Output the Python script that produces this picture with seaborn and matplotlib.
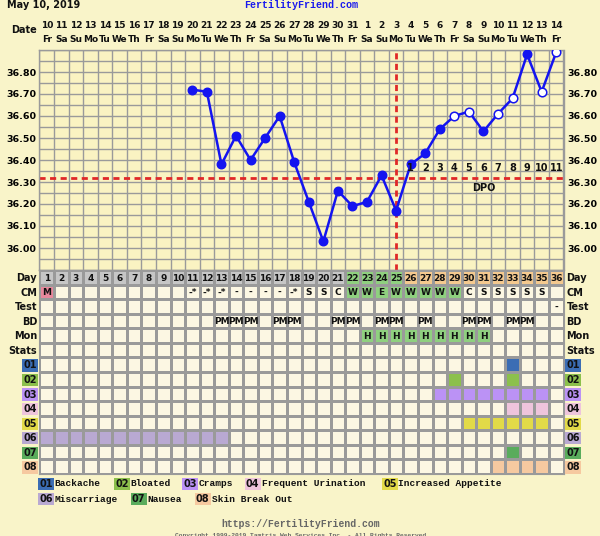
import numpy as np
import pandas as pd
import matplotlib
matplotlib.use("Agg")
import matplotlib.pyplot as plt
import matplotlib.transforms as mtransforms
from matplotlib.colors import ListedColormap
import seaborn as sns

# ---------------- data ----------------
days = list(range(1, 37))
dates = list(range(10, 32)) + list(range(1, 15))
weekdays = ["Fr", "Sa", "Su", "Mo", "Tu", "We", "Th"]
day_names = [weekdays[i % 7] for i in range(36)]

temp_days = list(range(11, 37))
temps = [36.72, 36.71, 36.38, 36.51, 36.40, 36.50, 36.60, 36.39, 36.21, 36.03,
         36.26, 36.19, 36.21, 36.33, 36.17, 36.38, 36.43, 36.54, 36.60, 36.62,
         36.53, 36.61, 36.68, 36.88, 36.71, 36.89]
open_days = [29, 30, 32, 33, 35, 36]
coverline = 36.32
ovulation_day = 25
dpo_labels = [str(i) for i in range(1, 12)]
dpo_days = list(range(26, 37))
y_tick_values = [36.00, 36.10, 36.20, 36.30, 36.40, 36.50, 36.60, 36.70, 36.80]

cm_days = [1, 11, 12, 13, 14, 15, 16, 17, 18, 19, 20, 21, 22, 23, 24, 25, 26, 27, 28, 29,
           30, 31, 32, 33, 34, 35]
cm_codes = ["M", "-*", "-*", "-*", "-", "-", "-", "-", "-*", "S", "S", "C", "W", "W", "E", "W",
            "W", "W", "W", "W", "C", "S", "S", "S", "S", "S"]
fertile_cm_days = [22, 23, 24, 25, 26, 27, 28, 29]
test_days = [36]
test_codes = ["-"]
bd_days = [13, 14, 15, 17, 18, 21, 22, 24, 25, 27, 30, 31, 33, 34]
mon_days = [23, 24, 25, 26, 27, 28, 29, 30, 31]
mon_codes = ["H"] * 9

symptom_codes = ["01", "02", "03", "04", "05", "06", "07", "08"]
symptom_names = ["Backache", "Bloated", "Cramps", "Frequent Urination", "Increased Appetite",
                 "Miscarriage", "Nausea", "Skin Break Out"]
symptom_days = [
    [33],
    [29, 33],
    [28, 29, 30, 31, 32, 33, 34, 35],
    [33, 34, 35],
    [30, 31, 32, 33, 34, 35],
    [1, 2, 3, 4, 5, 6, 7, 8, 9, 10, 11, 12, 13],
    [33],
    [32, 33, 34, 35],
]
symptom_colors = ["#3b6db4", "#8cc04c", "#bb92f5", "#eec4dc", "#e2da48", "#b9a9d2",
                  "#5aac5c", "#f6c9a0"]
row_labels = ["Day", "CM", "Test", "BD", "Mon", "Stats"] + symptom_codes

# ---------------- style ----------------
outer_bg = "#F9F4C9"
chart_bg = "#FAF3C2"
cream = "#FCF7E3"
grid_c = "#9a9a9a"
blue = "#1414F0"
red = "#E02828"
plt.rcParams["font.family"] = ["DejaVu Sans"]

W, H = 600, 536
fig = plt.figure(figsize=(W / 100, H / 100), dpi=100, facecolor=outer_bg)


def rect(x0, y0, x1, y1):
    return [x0 / W, 1 - y1 / H, (x1 - x0) / W, (y1 - y0) / H]


def fy(py):
    return 1 - py / H


ax_t = fig.add_axes(rect(39.5, 50, 563.5, 270))
ax_b = fig.add_axes(rect(39.5, 270, 563.5, 474))

# ---------------- temperature chart ----------------
df = pd.DataFrame({"day": temp_days, "temp": temps})
df["open"] = df["day"].isin(open_days)

ax_t.set_facecolor(chart_bg)
ax_t.axhline(coverline, color=red, lw=2, ls=(0, (2.2, 1.6)), zorder=2)
ax_t.axvline(ovulation_day, color=red, lw=2, ls=(0, (2.2, 1.6)), zorder=2)
sns.lineplot(data=df, x="day", y="temp", color=blue, lw=1.8, ax=ax_t, zorder=3)
sns.scatterplot(data=df[~df["open"]], x="day", y="temp", color=blue, edgecolor=blue,
                s=38, linewidth=1, ax=ax_t, zorder=4)
sns.scatterplot(data=df[df["open"]], x="day", y="temp", color="white", edgecolor=blue,
                s=38, linewidth=1.1, ax=ax_t, zorder=4)

ax_t.set_xlim(0.5, 36.5)
ax_t.set_ylim(35.90, 36.90)
ax_t.set_xlabel("")
ax_t.set_ylabel("")
ax_t.set_xticks([])
ax_t.set_xticks(np.arange(0.5, 37, 1), minor=True)
ax_t.set_yticks(y_tick_values)
ax_t.set_yticklabels([f"{v:.2f}" for v in y_tick_values])
ax_t.set_yticks(np.arange(35.90, 36.91, 0.05), minor=True)
ax_t.grid(which="both", color=grid_c, lw=1.0, zorder=1)
ax_t.set_axisbelow(True)
ax_t.tick_params(axis="both", which="both", length=0)
ax_t.tick_params(axis="y", labelleft=True, labelright=True, pad=2.5, labelsize=6.8)
for lbl in ax_t.get_yticklabels():
    lbl.set_fontweight("bold")
for s in ax_t.spines.values():
    s.set_color(grid_c)
    s.set_linewidth(1.0)

for d, lab in zip(dpo_days, dpo_labels):
    ax_t.text(d, 36.365, lab, ha="center", va="center", fontsize=7, fontweight="bold",
              color="#111111", zorder=5)
ax_t.text(31, 36.273, "DPO", ha="center", va="center", fontsize=7, fontweight="bold",
          color="#111111", zorder=5)

# date header
trans = mtransforms.blended_transform_factory(ax_t.transData, fig.transFigure)
for d, dt, wd in zip(days, dates, day_names):
    ax_t.text(d, fy(25), str(dt), transform=trans, ha="center", va="center",
              fontsize=6.5, fontweight="bold", color="#111111")
    ax_t.text(d, fy(40), wd, transform=trans, ha="center", va="center",
              fontsize=6.5, fontweight="bold", color="#111111")
fig.text(37 / W, fy(30), "Date", ha="right", va="center", fontsize=7,
         fontweight="bold", color="#111111")
fig.text(7 / W, fy(5), "May 10, 2019", ha="left", va="center", fontsize=7,
         fontweight="bold", color="#111111")
fig.text(301 / W, fy(5), "FertilityFriend.com", ha="center", va="center", fontsize=7.2,
         fontweight="bold", color="#1a1aee", family="Liberation Mono")

# ---------------- table ----------------
palette = [cream, "#c6c6c6", "#8fd07f", "#f4c98f", "#e8889c"] + symptom_colors
mat = np.zeros((len(row_labels), 36), dtype=int)
for d in days:
    if d < 22:
        mat[0, d - 1] = 1
    elif d <= 25:
        mat[0, d - 1] = 2
    else:
        mat[0, d - 1] = 3
mat[1, 0] = 4
for d in fertile_cm_days:
    mat[1, d - 1] = 2
for d in mon_days:
    mat[4, d - 1] = 2
for i, sd in enumerate(symptom_days):
    for d in sd:
        mat[6 + i, d - 1] = 5 + i

sns.heatmap(mat, cmap=ListedColormap(palette), vmin=-0.5, vmax=len(palette) - 0.5,
            cbar=False, linewidths=1.0, linecolor=grid_c, ax=ax_b,
            xticklabels=False, yticklabels=False)
ax_b.set_xlim(0, 36)
ax_b.set_ylim(len(row_labels), 0)
for s in ax_b.spines.values():
    s.set_visible(True)
    s.set_color(grid_c)

cell_kw = dict(ha="center", va="center", fontsize=6.5, fontweight="bold", color="#111111")
for d in days:
    ax_b.text(d - 0.5, 0.55, str(d), **cell_kw)
for d, c in zip(cm_days, cm_codes):
    ax_b.text(d - 0.5, 1.55, c, **cell_kw)
for d, c in zip(test_days, test_codes):
    ax_b.text(d - 0.5, 2.55, c, **cell_kw)
for d in bd_days:
    ax_b.text(d - 0.5, 3.55, "PM", **cell_kw)
for d, c in zip(mon_days, mon_codes):
    ax_b.text(d - 0.5, 4.55, c, **cell_kw)

for r, lab in enumerate(row_labels):
    kw = dict(va="center", fontsize=7, fontweight="bold", color="#111111")
    if r >= 6:
        kw["bbox"] = dict(boxstyle="square,pad=0.12", fc=symptom_colors[r - 6], ec="none")
    ax_b.text(-0.17, r + 0.55, lab, ha="right", **kw)
    ax_b.text(36.2, r + 0.55, lab, ha="left", **kw)

# ---------------- legend ----------------
legend_pos = [(39, 484), (115, 484), (183, 484), (246, 484), (383, 484),
              (39, 499), (132, 499), (196, 499)]
for (px, py), code, name, col in zip(legend_pos, symptom_codes, symptom_names, symptom_colors):
    fig.text(px / W, fy(py), code, ha="left", va="center", fontsize=7, fontweight="bold",
             color="#111111", bbox=dict(boxstyle="square,pad=0.12", fc=col, ec="none"))
    fig.text((px + 15.5) / W, fy(py), name, ha="left", va="center", fontsize=6.8,
             fontweight="bold", color="#111111", family="Liberation Mono")

fig.text(301 / W, fy(524), "https://FertilityFriend.com", ha="center", va="center",
         fontsize=7, fontweight="bold", color="#666666", family="Liberation Mono")
fig.text(301 / W, fy(535), "Copyright 1999-2019 Tamtris Web Services Inc. - All Rights Reserved",
         ha="center", va="center", fontsize=4.5, fontweight="bold", color="#666666",
         family="Liberation Mono")

fig.savefig("out.png", dpi=100, facecolor=outer_bg)
